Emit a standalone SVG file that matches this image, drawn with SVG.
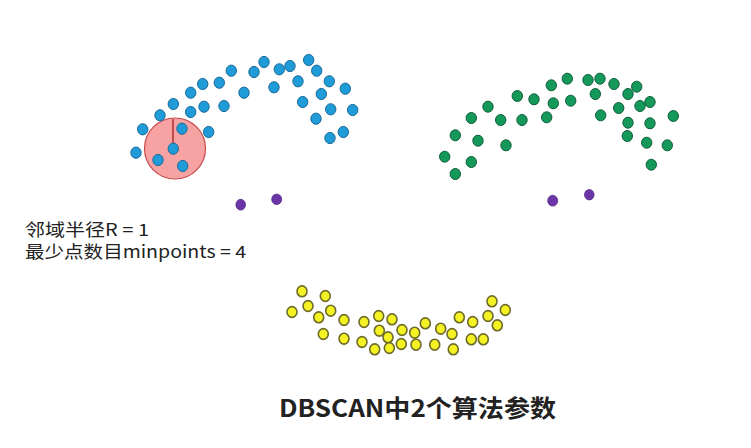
<svg xmlns="http://www.w3.org/2000/svg" width="751" height="448" viewBox="0 0 751 448">
<style>
.b{fill:#1f9bd8;stroke:#1a6a9a;stroke-width:1}
.g{fill:#14995a;stroke:#0e5e3a;stroke-width:1}
.y{fill:#f4f222;stroke:#6e6a2a;stroke-width:1.6}
.p{fill:#6b35a8;stroke:#552a88;stroke-width:0.8}
.t{font-family:"Noto Sans CJK SC","Liberation Sans",sans-serif;fill:#222}
</style>
<rect width="751" height="448" fill="#ffffff"/>
<g id="radius-circle">
<circle cx="175" cy="148.5" r="30.5" fill="#f7a3a3" stroke="#c84a4a" stroke-width="1.2"/>
<line x1="173" y1="148.5" x2="173" y2="119" stroke="#b03030" stroke-width="1.5"/>
</g>
<g id="blue-cluster">
<ellipse class="b" cx="142.7" cy="129.3" rx="5.2" ry="5.6"/>
<ellipse class="b" cx="136" cy="152.7" rx="5.2" ry="5.6"/>
<ellipse class="b" cx="160" cy="115.3" rx="5.2" ry="5.6"/>
<ellipse class="b" cx="173.3" cy="104" rx="5.2" ry="5.6"/>
<ellipse class="b" cx="190.7" cy="92.7" rx="5.2" ry="5.6"/>
<ellipse class="b" cx="202.7" cy="84" rx="5.2" ry="5.6"/>
<ellipse class="b" cx="219.3" cy="82.7" rx="5.2" ry="5.6"/>
<ellipse class="b" cx="231.3" cy="70.7" rx="5.2" ry="5.6"/>
<ellipse class="b" cx="190.7" cy="112" rx="5.2" ry="5.6"/>
<ellipse class="b" cx="204" cy="106.7" rx="5.2" ry="5.6"/>
<ellipse class="b" cx="224" cy="106" rx="5.2" ry="5.6"/>
<ellipse class="b" cx="244" cy="92.7" rx="5.2" ry="5.6"/>
<ellipse class="b" cx="254" cy="72" rx="5.2" ry="5.6"/>
<ellipse class="b" cx="264" cy="62" rx="5.2" ry="5.6"/>
<ellipse class="b" cx="279.3" cy="69.3" rx="5.2" ry="5.6"/>
<ellipse class="b" cx="290" cy="66" rx="5.2" ry="5.6"/>
<ellipse class="b" cx="308.7" cy="60" rx="5.2" ry="5.6"/>
<ellipse class="b" cx="316.7" cy="70.7" rx="5.2" ry="5.6"/>
<ellipse class="b" cx="274" cy="87.3" rx="5.2" ry="5.6"/>
<ellipse class="b" cx="298" cy="81.3" rx="5.2" ry="5.6"/>
<ellipse class="b" cx="329.3" cy="81.3" rx="5.2" ry="5.6"/>
<ellipse class="b" cx="345.3" cy="88.7" rx="5.2" ry="5.6"/>
<ellipse class="b" cx="321.3" cy="94" rx="5.2" ry="5.6"/>
<ellipse class="b" cx="302.7" cy="102" rx="5.2" ry="5.6"/>
<ellipse class="b" cx="330.7" cy="109.3" rx="5.2" ry="5.6"/>
<ellipse class="b" cx="352.7" cy="110" rx="5.2" ry="5.6"/>
<ellipse class="b" cx="316" cy="118.7" rx="5.2" ry="5.6"/>
<ellipse class="b" cx="343.3" cy="132" rx="5.2" ry="5.6"/>
<ellipse class="b" cx="330" cy="138" rx="5.2" ry="5.6"/>
<ellipse class="b" cx="182" cy="128.7" rx="5.2" ry="5.6"/>
<ellipse class="b" cx="208.7" cy="132" rx="5.2" ry="5.6"/>
<ellipse class="b" cx="173.3" cy="148.7" rx="5.2" ry="5.6"/>
<ellipse class="b" cx="158" cy="160" rx="5.2" ry="5.6"/>
<ellipse class="b" cx="182.7" cy="166" rx="5.2" ry="5.6"/>
</g>
<g id="green-cluster">
<ellipse class="g" cx="444.7" cy="156.7" rx="5.2" ry="5.5"/>
<ellipse class="g" cx="455.3" cy="174" rx="5.2" ry="5.5"/>
<ellipse class="g" cx="455.3" cy="135.3" rx="5.2" ry="5.5"/>
<ellipse class="g" cx="471.3" cy="162" rx="5.2" ry="5.5"/>
<ellipse class="g" cx="478" cy="140.7" rx="5.2" ry="5.5"/>
<ellipse class="g" cx="471.3" cy="118" rx="5.2" ry="5.5"/>
<ellipse class="g" cx="488" cy="106.7" rx="5.2" ry="5.5"/>
<ellipse class="g" cx="500.7" cy="120" rx="5.2" ry="5.5"/>
<ellipse class="g" cx="506" cy="145.3" rx="5.2" ry="5.5"/>
<ellipse class="g" cx="517.3" cy="96" rx="5.2" ry="5.5"/>
<ellipse class="g" cx="522" cy="120" rx="5.2" ry="5.5"/>
<ellipse class="g" cx="534" cy="99.3" rx="5.2" ry="5.5"/>
<ellipse class="g" cx="546.7" cy="117.3" rx="5.2" ry="5.5"/>
<ellipse class="g" cx="551.3" cy="85.3" rx="5.2" ry="5.5"/>
<ellipse class="g" cx="553.3" cy="103.3" rx="5.2" ry="5.5"/>
<ellipse class="g" cx="567.3" cy="78.7" rx="5.2" ry="5.5"/>
<ellipse class="g" cx="570.7" cy="100.7" rx="5.2" ry="5.5"/>
<ellipse class="g" cx="588" cy="80" rx="5.2" ry="5.5"/>
<ellipse class="g" cx="600" cy="78.7" rx="5.2" ry="5.5"/>
<ellipse class="g" cx="595.3" cy="94" rx="5.2" ry="5.5"/>
<ellipse class="g" cx="614" cy="84" rx="5.2" ry="5.5"/>
<ellipse class="g" cx="600.7" cy="115.3" rx="5.2" ry="5.5"/>
<ellipse class="g" cx="618.7" cy="108" rx="5.2" ry="5.5"/>
<ellipse class="g" cx="628" cy="94" rx="5.2" ry="5.5"/>
<ellipse class="g" cx="636.7" cy="86.7" rx="5.2" ry="5.5"/>
<ellipse class="g" cx="640" cy="106" rx="5.2" ry="5.5"/>
<ellipse class="g" cx="650" cy="102" rx="5.2" ry="5.5"/>
<ellipse class="g" cx="628" cy="122.7" rx="5.2" ry="5.5"/>
<ellipse class="g" cx="627.3" cy="136" rx="5.2" ry="5.5"/>
<ellipse class="g" cx="650" cy="123.3" rx="5.2" ry="5.5"/>
<ellipse class="g" cx="646.7" cy="142.7" rx="5.2" ry="5.5"/>
<ellipse class="g" cx="673.3" cy="116" rx="5.2" ry="5.5"/>
<ellipse class="g" cx="667.3" cy="145.3" rx="5.2" ry="5.5"/>
<ellipse class="g" cx="651.3" cy="164.7" rx="5.2" ry="5.5"/>
</g>
<g id="noise-points">
<ellipse class="p" cx="240.7" cy="204.7" rx="4.8" ry="5.4"/>
<ellipse class="p" cx="276.7" cy="199.3" rx="5" ry="5.2"/>
<ellipse class="p" cx="552.7" cy="200.7" rx="5" ry="5.4"/>
<ellipse class="p" cx="589.3" cy="194.7" rx="4.8" ry="5.2"/>
</g>
<g id="yellow-cluster">
<ellipse class="y" cx="302" cy="291.3" rx="5" ry="5.4"/>
<ellipse class="y" cx="325.3" cy="296" rx="5" ry="5.4"/>
<ellipse class="y" cx="292" cy="312" rx="5" ry="5.4"/>
<ellipse class="y" cx="308" cy="306" rx="5" ry="5.4"/>
<ellipse class="y" cx="318.7" cy="317.3" rx="5" ry="5.4"/>
<ellipse class="y" cx="330.7" cy="310.7" rx="5" ry="5.4"/>
<ellipse class="y" cx="344" cy="320" rx="5" ry="5.4"/>
<ellipse class="y" cx="323.3" cy="334" rx="5" ry="5.4"/>
<ellipse class="y" cx="344" cy="338.7" rx="5" ry="5.4"/>
<ellipse class="y" cx="364" cy="322" rx="5" ry="5.4"/>
<ellipse class="y" cx="362" cy="342" rx="5" ry="5.4"/>
<ellipse class="y" cx="378.7" cy="316" rx="5" ry="5.4"/>
<ellipse class="y" cx="392" cy="319.3" rx="5" ry="5.4"/>
<ellipse class="y" cx="379.3" cy="330.7" rx="5" ry="5.4"/>
<ellipse class="y" cx="388" cy="337.3" rx="5" ry="5.4"/>
<ellipse class="y" cx="374.7" cy="349.3" rx="5" ry="5.4"/>
<ellipse class="y" cx="389.3" cy="348" rx="5" ry="5.4"/>
<ellipse class="y" cx="402" cy="330" rx="5" ry="5.4"/>
<ellipse class="y" cx="401.3" cy="344" rx="5" ry="5.4"/>
<ellipse class="y" cx="414.7" cy="332.7" rx="5" ry="5.4"/>
<ellipse class="y" cx="416" cy="344.7" rx="5" ry="5.4"/>
<ellipse class="y" cx="425.3" cy="323.3" rx="5" ry="5.4"/>
<ellipse class="y" cx="440.7" cy="328.7" rx="5" ry="5.4"/>
<ellipse class="y" cx="434.7" cy="344.7" rx="5" ry="5.4"/>
<ellipse class="y" cx="452" cy="334" rx="5" ry="5.4"/>
<ellipse class="y" cx="453.3" cy="349.3" rx="5" ry="5.4"/>
<ellipse class="y" cx="459.3" cy="317.3" rx="5" ry="5.4"/>
<ellipse class="y" cx="472.7" cy="322" rx="5" ry="5.4"/>
<ellipse class="y" cx="471.3" cy="339.3" rx="5" ry="5.4"/>
<ellipse class="y" cx="483.3" cy="339.3" rx="5" ry="5.4"/>
<ellipse class="y" cx="488" cy="316" rx="5" ry="5.4"/>
<ellipse class="y" cx="497.3" cy="325.3" rx="5" ry="5.4"/>
<ellipse class="y" cx="492" cy="301.3" rx="5" ry="5.4"/>
<ellipse class="y" cx="505.3" cy="310" rx="5" ry="5.4"/>
</g>
<g id="labels">
<text class="t" x="25" y="235.5" font-size="17" textLength="124" lengthAdjust="spacingAndGlyphs">邻域半径R = 1</text>
<text class="t" x="25" y="258" font-size="17" textLength="221" lengthAdjust="spacingAndGlyphs">最少点数目minpoints = 4</text>
<text class="t" x="279" y="417" font-size="24" font-weight="bold" fill="#111" textLength="277" lengthAdjust="spacingAndGlyphs">DBSCAN中2个算法参数</text>
</g>
</svg>
